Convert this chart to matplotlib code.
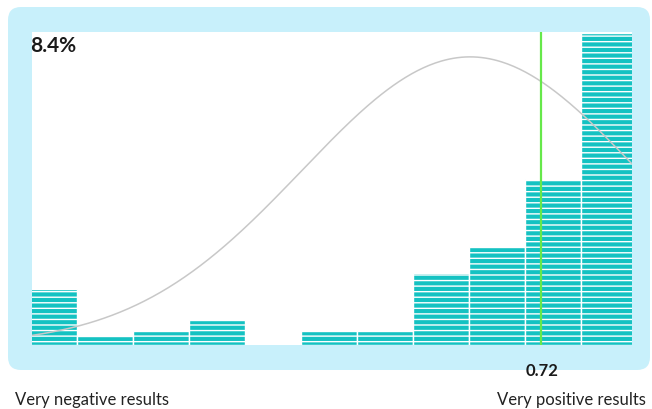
import numpy as np
import matplotlib.pyplot as plt
from matplotlib.patches import FancyBboxPatch

plt.rcParams['font.family'] = ['Lato', 'DejaVu Sans']
plt.rcParams['hatch.linewidth'] = 1.0

# share of results per bin (%), bins left to right
bin_edges = list(range(12))
shares = [1.51, 0.24, 0.38, 0.67, 0.0, 0.38, 0.38, 1.94, 2.64, 4.47, 8.4]

# fitted normal curve (bin units) and the marked value
curve_mean = 8.02
curve_sd = 3.0
curve_peak = 7.76
marker_pos = 9.29
marker_label = '0.72'
top_label = '8.4%'
left_label = 'Very negative results'
right_label = 'Very positive results'

teal = '#14c2c2'
box_blue = '#c8f0fb'

fig = plt.figure(figsize=(6.52, 4.10), dpi=100)

# background layer in pixel coordinates
bg = fig.add_axes([0, 0, 1, 1])
bg.set_xlim(0, 652)
bg.set_ylim(410, 0)
bg.axis('off')
bg.add_patch(FancyBboxPatch((8, 8), 642, 363,
                            boxstyle='round,pad=0,rounding_size=13',
                            facecolor=box_blue, edgecolor='none'))

ax = fig.add_axes([32 / 652, (410 - 346) / 410, 600 / 652, 313 / 410])
ax.set_facecolor('white')

widths = np.diff(bin_edges)
ax.bar(bin_edges[:-1], shares, width=widths, align='edge', color=teal,
       edgecolor='white', linewidth=1.0, hatch='---', zorder=2)

ax.set_xlim(0.196, 10.911)
ax.set_ylim(0, 8.43)

xs = np.linspace(0.196, 10.911, 300)
ax.plot(xs, curve_peak * np.exp(-0.5 * ((xs - curve_mean) / curve_sd) ** 2),
        color='#c8c8c8', linewidth=1.1, zorder=3)
ax.axvline(marker_pos, color='#66e84a', linewidth=1.6, zorder=4)

for s in ax.spines.values():
    s.set_visible(False)
ax.set_xticks([])
ax.set_yticks([])

# texts on top of everything, placed in pixel coordinates
px = bg.transData
fig.text(30, 46, top_label, transform=px, fontsize=15, fontweight='bold',
         color='#1a1a1a', ha='left', va='center')
fig.text(542, 371, marker_label, transform=px, fontsize=12, fontweight='bold',
         color='#1a1a1a', ha='center', va='center')
fig.text(15, 400, left_label, transform=px, fontsize=12, color='#222222',
         ha='left', va='center')
fig.text(646, 400, right_label, transform=px, fontsize=12, color='#222222',
         ha='right', va='center')

fig.savefig('out.png', dpi=100)
plt.close(fig)
